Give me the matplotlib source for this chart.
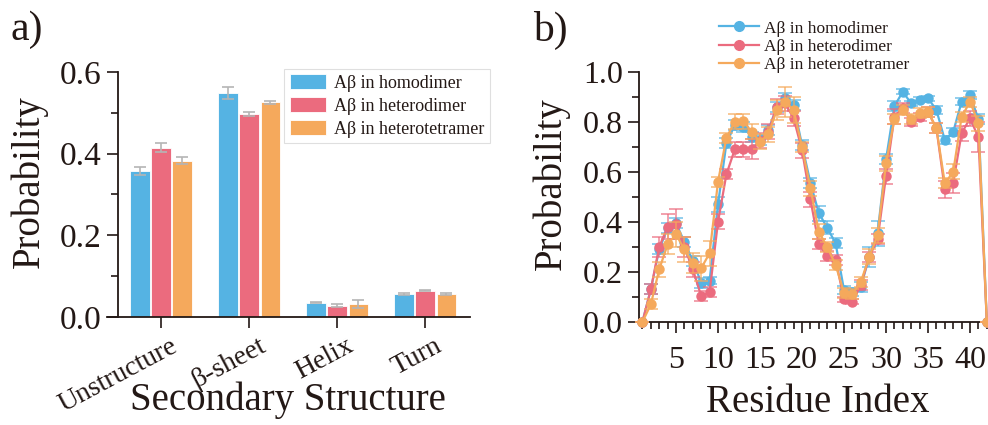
import numpy as np
import matplotlib
matplotlib.use("Agg")
import matplotlib.pyplot as plt
from matplotlib.ticker import MultipleLocator, FixedLocator, FormatStrFormatter
from matplotlib.transforms import ScaledTranslation
from matplotlib.lines import Line2D
from matplotlib.colors import to_rgba

plt.rcParams['font.family'] = ['Liberation Serif', 'DejaVu Serif']

# ---- secondary structure content (panel a) ----
categories = ["Unstructure", "β-sheet", "Helix", "Turn"]
homo_ss = [0.358, 0.549, 0.035, 0.056]
hetero_ss = [0.415, 0.497, 0.028, 0.064]
tetra_ss = [0.383, 0.526, 0.032, 0.056]
homo_ss_err = [0.010, 0.015, 0.001, 0.003]
hetero_ss_err = [0.010, 0.004, 0.004, 0.001]
tetra_ss_err = [0.008, 0.004, 0.009, 0.003]

# ---- per-residue beta probability (panel b) ----
residues = list(range(1, 43))
homo_res = [0, 0.13, 0.29, 0.375, 0.395, 0.32, 0.245, 0.157, 0.165, 0.47,
            0.714, 0.787, 0.78, 0.74, 0.727, 0.767, 0.86, 0.893, 0.867, 0.707,
            0.556, 0.435, 0.377, 0.314, 0.128, 0.12, 0.14, 0.26, 0.355, 0.65,
            0.863, 0.92, 0.873, 0.887, 0.894, 0.847, 0.727, 0.76, 0.88, 0.907,
            0.81, 0]
hetero_res = [0, 0.13, 0.30, 0.38, 0.39, 0.30, 0.21, 0.104, 0.12, 0.40,
              0.59, 0.69, 0.69, 0.69, 0.725, 0.76, 0.86, 0.873, 0.814, 0.687,
              0.49, 0.31, 0.265, 0.248, 0.09, 0.08, 0.148, 0.26, 0.33, 0.583,
              0.82, 0.855, 0.80, 0.82, 0.84, 0.774, 0.53, 0.556, 0.754, 0.814,
              0.738, 0]
tetra_res = [0, 0.07, 0.21, 0.31, 0.35, 0.29, 0.235, 0.215, 0.275, 0.56,
             0.736, 0.80, 0.803, 0.76, 0.72, 0.75, 0.847, 0.88, 0.847, 0.70,
             0.535, 0.36, 0.30, 0.228, 0.117, 0.113, 0.16, 0.26, 0.347, 0.634,
             0.81, 0.847, 0.81, 0.834, 0.84, 0.774, 0.554, 0.60, 0.82, 0.88,
             0.794, 0]
homo_res_err = [0, 0.02, 0.02, 0.02, 0.02, 0.02, 0.02, 0.02, 0.015, 0.03,
                0.02, 0.02, 0.02, 0.02, 0.02, 0.02, 0.02, 0.02, 0.02, 0.02,
                0.02, 0.03, 0.025, 0.02, 0.015, 0.015, 0.02, 0.04, 0.05, 0.02,
                0.02, 0.01, 0.01, 0.01, 0.01, 0.015, 0.015, 0.015, 0.015, 0.015,
                0.02, 0]
hetero_res_err = [0, 0.02, 0.04, 0.05, 0.06, 0.04, 0.03, 0.02, 0.02, 0.03,
                  0.02, 0.03, 0.03, 0.04, 0.03, 0.03, 0.03, 0.03, 0.03, 0.03,
                  0.03, 0.02, 0.02, 0.02, 0.01, 0.01, 0.02, 0.02, 0.02, 0.03,
                  0.03, 0.02, 0.015, 0.015, 0.02, 0.02, 0.035, 0.04, 0.03, 0.03,
                  0.06, 0]
tetra_res_err = [0, 0.02, 0.03, 0.04, 0.05, 0.05, 0.04, 0.05, 0.05, 0.02,
                 0.02, 0.03, 0.03, 0.03, 0.03, 0.03, 0.04, 0.06, 0.05, 0.02,
                 0.03, 0.03, 0.02, 0.02, 0.02, 0.02, 0.02, 0.03, 0.03, 0.03,
                 0.02, 0.02, 0.02, 0.02, 0.02, 0.02, 0.02, 0.03, 0.02, 0.02,
                 0.03, 0]

labels = ["Aβ in homodimer", "Aβ in heterodimer", "Aβ in heterotetramer"]
colors = ["#55B3E3", "#EB6B7E", "#F5A95C"]
ink = "#231815"

fig = plt.figure(figsize=(9.88, 4.25), dpi=100)

# ---------------- panel a ----------------
axa = fig.add_axes([107 / 988, 1 - 317 / 425, 363 / 988, 245 / 425])
x = np.arange(len(categories))
w = 0.22
step = 0.24
for i, (vals, errs) in enumerate(zip([homo_ss, hetero_ss, tetra_ss],
                                     [homo_ss_err, hetero_ss_err, tetra_ss_err])):
    axa.bar(x + (i - 1) * step, vals, width=w, color=colors[i],
            edgecolor="white", linewidth=0.6, label=labels[i], zorder=2)
    axa.errorbar(x + (i - 1) * step, vals, yerr=errs, fmt="none",
                 ecolor="#B5B5B5", elinewidth=1.2, capsize=4, capthick=1.2, zorder=3)

axa.set_xlim(-0.614, 3.51)
axa.set_ylim(0, 0.6)
axa.spines['left'].set_position(('data', -0.49))
axa.spines['top'].set_visible(False)
axa.spines['right'].set_visible(False)
for s in ('left', 'bottom'):
    axa.spines[s].set_linewidth(1.3)
    axa.spines[s].set_color(ink)
axa.set_yticks([0, 0.2, 0.4, 0.6])
axa.set_yticklabels(["0.0", "0.2", "0.4", "0.6"])
axa.yaxis.set_minor_locator(MultipleLocator(0.1))
axa.tick_params(axis='y', which='major', length=8, width=1.2, labelsize=24,
                colors=ink, pad=4)
axa.tick_params(axis='y', which='minor', length=5, width=1.2, colors=ink)
axa.tick_params(axis='x', which='major', length=8, width=1.2, colors=ink, pad=4)
axa.set_xticks(x)
axa.set_xticklabels(categories, rotation=28, ha="right", va="top",
                    rotation_mode="anchor", fontsize=20, color=ink)
# nudge the slanted category names so their upper end sits right of the tick
offset = ScaledTranslation(9 / 100, 0, fig.dpi_scale_trans)
for lab in axa.get_xticklabels():
    lab.set_transform(lab.get_transform() + offset)
axa.set_ylabel("Probability", fontsize=28, color=ink, va="center")
axa.yaxis.set_label_coords(-0.215, 0.551)
axa.set_xlabel("Secondary Structure", fontsize=28, color=ink, va="baseline")
axa.xaxis.set_label_coords(0.499, -0.38)
leg = axa.legend(loc="upper left", bbox_to_anchor=(0.488, 1.012), fontsize=13,
                 frameon=True, fancybox=False, edgecolor="#D8D8D8",
                 handlelength=2.0, handleheight=0.9, handletextpad=0.45,
                 labelspacing=0.28, borderpad=0.3, borderaxespad=0)
leg.get_frame().set_linewidth(0.8)
for t in leg.get_texts():
    t.set_color(ink)

fig.text(10 / 988, 1 - 30 / 425, "a)", fontsize=30, color=ink, va="center", ha="left")

# ---------------- panel b ----------------
axb = fig.add_axes([639 / 988, 1 - 322 / 425, 349 / 988, 250.3 / 425])
series = [(homo_res, homo_res_err), (hetero_res, hetero_res_err), (tetra_res, tetra_res_err)]
for i, (vals, errs) in enumerate(series):
    axb.errorbar(residues, vals, yerr=errs, color=colors[i],
                 ecolor=to_rgba(colors[i], 0.75),
                 elinewidth=1.2, capsize=5, capthick=1.2, lw=1.6, marker="o",
                 markersize=6.5, zorder=3 + i, clip_on=False)

axb.set_xlim(0.595, 42.14)
axb.set_ylim(0, 1.0)
axb.spines['top'].set_visible(False)
axb.spines['right'].set_visible(False)
for s in ('left', 'bottom'):
    axb.spines[s].set_linewidth(1.3)
    axb.spines[s].set_color(ink)
axb.xaxis.set_major_locator(FixedLocator([5, 10, 15, 20, 25, 30, 35, 40]))
axb.xaxis.set_minor_locator(FixedLocator(list(range(1, 43))))
axb.yaxis.set_major_locator(MultipleLocator(0.2))
axb.yaxis.set_minor_locator(MultipleLocator(0.1))
axb.yaxis.set_major_formatter(FormatStrFormatter("%.1f"))
axb.tick_params(axis='both', which='major', length=8, width=1.2, labelsize=23,
                colors=ink)
axb.tick_params(axis='x', which='major', pad=9)
axb.tick_params(axis='both', which='minor', length=5, width=1.2, colors=ink)
axb.set_ylabel("Probability", fontsize=28, color=ink, va="center")
axb.yaxis.set_label_coords(-0.252, 0.551)
axb.set_xlabel("Residue Index", fontsize=28, color=ink, va="baseline")
axb.xaxis.set_label_coords(0.511, -0.36)
handles = [Line2D([], [], color=c, lw=1.6, marker="o", markersize=7) for c in colors]
legb = axb.legend(handles, labels, loc="upper left", bbox_to_anchor=(0.229, 1.205),
                  fontsize=12.5, frameon=False, handlelength=2.3, handletextpad=0.3,
                  labelspacing=0.12, borderpad=0, borderaxespad=0)
for t in legb.get_texts():
    t.set_color(ink)

fig.text(533 / 988, 1 - 30 / 425, "b)", fontsize=30, color=ink, va="center", ha="left")

fig.savefig("out.png", dpi=100)
